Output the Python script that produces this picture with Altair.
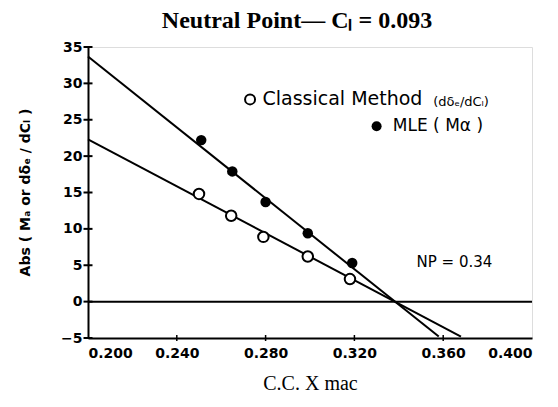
import altair as alt
import pandas as pd

# --- data ---
mle_x = [0.251, 0.265, 0.280, 0.299, 0.319]
mle_y = [22.2, 17.9, 13.7, 9.4, 5.3]
cls_x = [0.250, 0.2645, 0.279, 0.299, 0.318]
cls_y = [14.8, 11.8, 8.9, 6.2, 3.1]

mle_line_x = [0.200, 0.358]
mle_line_y = [33.7, -4.8]
cls_line_x = [0.200, 0.368]
cls_line_y = [22.3, -4.8]

x_ticks = [0.20, 0.24, 0.28, 0.32, 0.36, 0.40]
y_ticks = [-5, 0, 5, 10, 15, 20, 25, 30, 35]

legend_x = [0.273, 0.330]
legend_y = [27.8, 24.1]
legend_filled = [False, True]

ann_text = ["Classical Method", "(d\u03b4\u2091/dC\u2097)", "MLE ( M\u03b1 )", "NP = 0.34"]
ann_x = [0.2786, 0.3555, 0.3373, 0.348]
ann_y = [27.8, 27.5, 24.1, 5.5]
ann_size = [19, 13, 17, 15]

# --- tables ---
pts = pd.DataFrame({
    "x": mle_x + cls_x,
    "y": mle_y + cls_y,
    "series": ["MLE"] * len(mle_x) + ["Classical"] * len(cls_x),
})
lines = pd.DataFrame({
    "x": mle_line_x + cls_line_x,
    "y": mle_line_y + cls_line_y,
    "series": ["MLE"] * 2 + ["Classical"] * 2,
})
leg = pd.DataFrame({"x": legend_x, "y": legend_y, "filled": legend_filled})
ann = pd.DataFrame({"x": ann_x, "y": ann_y, "text": ann_text, "size": ann_size})
ytk = pd.DataFrame({"y": y_ticks, "x": [x_ticks[0]] * len(y_ticks)})
xtk = pd.DataFrame({"x": x_ticks[1:-1], "y": [y_ticks[0]] * (len(x_ticks) - 2)})
zero = pd.DataFrame({"y": [0]})

xs = alt.Scale(domain=[0.2, 0.4], nice=False, zero=False)
ys = alt.Scale(domain=[-5, 35], nice=False, zero=False)

x_axis = alt.Axis(values=x_ticks, format=".3f", ticks=False, grid=False,
                  domain=True, domainColor="black", domainWidth=2,
                  labelFont="DejaVu Sans", labelFontSize=14, labelFontWeight="bold",
                  labelColor="black", labelPadding=8,
                  title="C.C.  X mac", titleFont="Liberation Serif", titleFontSize=20,
                  titleFontWeight="normal", titleColor="black", titlePadding=13)
y_axis = alt.Axis(values=y_ticks, ticks=False, grid=False,
                  domain=True, domainColor="black", domainWidth=2,
                  labelFont="DejaVu Sans", labelFontSize=14, labelFontWeight="bold",
                  labelColor="black", labelPadding=6,
                  title="Abs ( M\u2090 or d\u03b4\u2091 / dC\u2097 )", titleFont="DejaVu Sans",
                  titleFontSize=14, titleFontWeight="bold", titleColor="black",
                  titleX=-63, titleY=145, titleAngle=270, titleBaseline="middle")

X = alt.X("x:Q", scale=xs, axis=x_axis)
Y = alt.Y("y:Q", scale=ys, axis=y_axis)

zero_rule = alt.Chart(zero).mark_rule(color="black", strokeWidth=2).encode(y=Y)

fit = alt.Chart(lines).mark_line(color="black", strokeWidth=2).encode(
    x=X, y=Y, detail="series:N")

mle_pts = alt.Chart(pts).transform_filter(alt.datum.series == "MLE").mark_point(
    shape="circle", filled=True, color="black", size=110, opacity=1).encode(x=X, y=Y)
cls_pts = alt.Chart(pts).transform_filter(alt.datum.series == "Classical").mark_point(
    shape="circle", filled=True, fill="white", stroke="black", strokeWidth=2,
    size=110, opacity=1).encode(x=X, y=Y)

leg_open = alt.Chart(leg).transform_filter(~alt.datum.filled).mark_point(
    shape="circle", filled=True, fill="white", stroke="black", strokeWidth=2,
    size=100, opacity=1).encode(x=X, y=Y)
leg_fill = alt.Chart(leg).transform_filter(alt.datum.filled).mark_point(
    shape="circle", filled=True, color="black", size=100, opacity=1).encode(x=X, y=Y)

texts = alt.Chart(ann).mark_text(align="left", baseline="middle", font="DejaVu Sans",
                                 color="black").encode(
    x=X, y=Y, text="text:N", size=alt.Size("size:Q", scale=None, legend=None))

ytick_marks = alt.Chart(ytk).mark_tick(orient="horizontal", size=9, thickness=2,
                                       color="black", opacity=1).encode(x=X, y=Y)
xtick_marks = alt.Chart(xtk).mark_tick(orient="vertical", size=6, thickness=1.5,
                                       color="black", opacity=1).encode(x=X, y=Y)

chart = alt.layer(zero_rule, fit, cls_pts, mle_pts, leg_open, leg_fill, texts,
                  ytick_marks, xtick_marks).properties(
    width=444, height=291,
    padding={"left": 80, "top": 39, "right": 18, "bottom": 61},
    autosize=alt.AutoSizeParams(type="none"),
    title=alt.TitleParams(text="Neutral Point\u2014 C\u2097 = 0.093", font="Liberation Serif",
                          fontSize=24, fontWeight="bold", anchor="middle", frame="group",
                          offset=7, dx=-13, color="black"),
).configure_view(stroke="#222", strokeWidth=1.5).configure(background="white")

chart.save("out.html", embed_options={"renderer": "svg", "actions": False})
